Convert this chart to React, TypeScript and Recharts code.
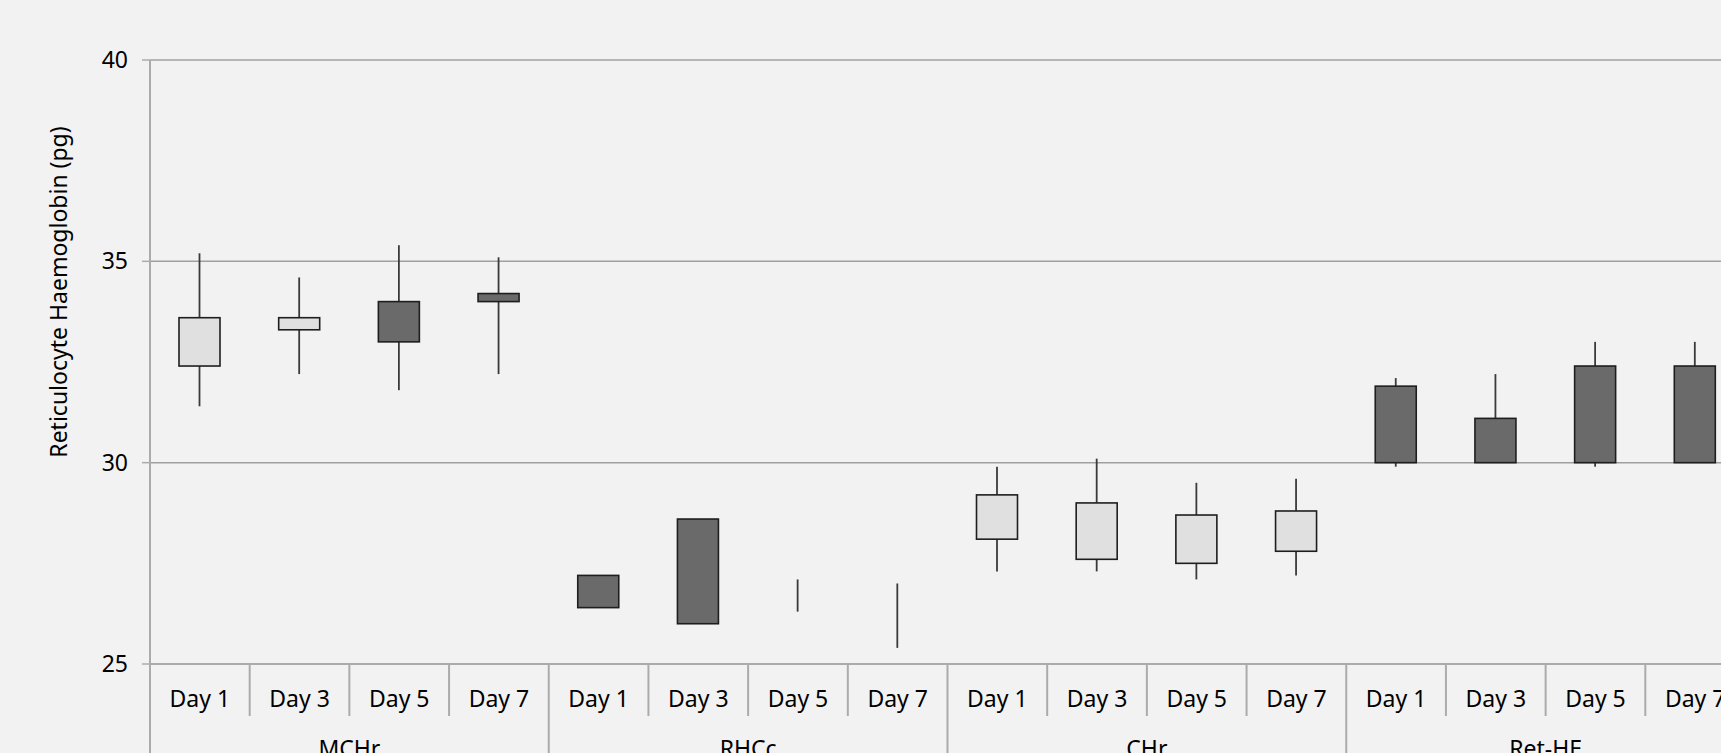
import { ComposedChart, Bar, XAxis, YAxis, CartesianGrid } from 'recharts';

// categories
const groups = ['MCHr', 'RHCc', 'CHr', 'Ret-HE'];
const days = ['Day 1', 'Day 3', 'Day 5', 'Day 7'];

// stock-style values (open / high / low / close), 4 days per group
const openVals = [32.4, 33.3, 34.0, 34.2, 27.2, 28.6, null, null, 28.1, 27.6, 27.5, 27.8, 31.9, 31.1, 32.4, 32.4];
const closeVals = [33.6, 33.6, 33.0, 34.0, 26.4, 26.0, null, null, 29.2, 29.0, 28.7, 28.8, 30.0, 30.0, 30.0, 30.0];
const highVals = [35.2, 34.6, 35.4, 35.1, 27.2, 28.6, 27.1, 27.0, 29.9, 30.1, 29.5, 29.6, 32.1, 32.2, 33.0, 33.0];
const lowVals = [31.4, 32.2, 31.8, 32.2, 26.4, 26.0, 26.3, 25.4, 27.3, 27.3, 27.1, 27.2, 29.9, 30.0, 29.9, 30.0];

const yTicks = [25, 30, 35, 40];

const data = groups.flatMap((g, gi) =>
  days.map((d, di) => {
    const i = gi * 4 + di;
    return {
      key: g + '-' + d,
      day: d,
      group: g,
      open: openVals[i],
      close: closeVals[i],
      high: highVals[i],
      low: lowVals[i],
      range: [lowVals[i], highVals[i]],
    };
  })
);

const CHART_W = 1760;
const CHART_H = 800;
const Y_AXIS_W = 150;
const RIGHT = 15;
const CAT_W = (CHART_W - Y_AXIS_W - RIGHT) / data.length;

const FONT = '"Noto Sans", sans-serif';
const FS = 23;
const LINE = '#ABABAB';

function Candle(props: any) {
  const { x, y, width, height, payload } = props;
  const top = Math.min(y, y + height);
  const bottom = Math.max(y, y + height);
  const { open, close, high, low } = payload;
  const toY = (v: number) => top + ((bottom - top) * (high - v)) / (high - low);
  const cx = x + width / 2;
  const hasBox = open != null && close != null;
  const up = hasBox && close > open;
  return (
    <g>
      <line x1={cx} x2={cx} y1={top} y2={bottom} stroke="#3A3A3A" strokeWidth={1.8} />
      {hasBox && (
        <rect
          x={x}
          y={toY(Math.max(open, close))}
          width={width}
          height={Math.abs(toY(open) - toY(close))}
          fill={up ? '#E0E0E0' : '#6A6A6A'}
          stroke="#1E1E1E"
          strokeWidth={1.6}
        />
      )}
    </g>
  );
}

function DayTick(props: any) {
  const { x, y, payload, index } = props;
  const left = x - CAT_W / 2;
  const first = index % 4 === 0;
  return (
    <g>
      <line x1={left} x2={left} y1={y} y2={first ? y + 140 : y + 52} stroke={LINE} strokeWidth={2} />
      <text x={x} y={y + 43} textAnchor="middle" fontFamily={FONT} fontSize={FS} fill="#000">
        {payload.value}
      </text>
      {index % 4 === 1 && (
        <text x={x + CAT_W / 2} y={y + 93} textAnchor="middle" fontFamily={FONT} fontSize={FS} fill="#000">
          {data[index].group}
        </text>
      )}
    </g>
  );
}

const YTitle = () => (
  <text
    transform="translate(67, 292) rotate(-90)"
    textAnchor="middle"
    fontFamily={FONT}
    fontSize={FS}
    fill="#000"
  >
    Reticulocyte Haemoglobin (pg)
  </text>
);

export default function App() {
  return (
    <div
      style={{
        position: 'absolute',
        left: 0,
        top: 0,
        width: 1721,
        height: 753,
        overflow: 'hidden',
        background: '#F2F2F2',
      }}
    >
      <ComposedChart
        width={CHART_W}
        height={CHART_H}
        data={data}
        margin={{ top: 60, right: RIGHT, left: 0, bottom: 0 }}
      >
        <CartesianGrid horizontal vertical={false} stroke="#A0A0A0" strokeWidth={1.5} />
        <XAxis
          dataKey="day"
          height={136}
          interval={0}
          tickLine={false}
          tickSize={0}
          tickMargin={0}
          axisLine={{ stroke: LINE, strokeWidth: 2 }}
          tick={<DayTick />}
        />
        <YAxis
          type="number"
          domain={[25, 40]}
          ticks={yTicks}
          interval={0}
          width={Y_AXIS_W}
          tickSize={8}
          tickMargin={14}
          tickLine={{ stroke: LINE, strokeWidth: 1.5 }}
          axisLine={{ stroke: LINE, strokeWidth: 2 }}
          tick={{ fontFamily: FONT, fontSize: FS, fill: '#000' }}
          label={{ content: () => <YTitle /> }}
        />
        <Bar dataKey="range" barSize={41} shape={<Candle />} isAnimationActive={false} />
      </ComposedChart>
    </div>
  );
}
